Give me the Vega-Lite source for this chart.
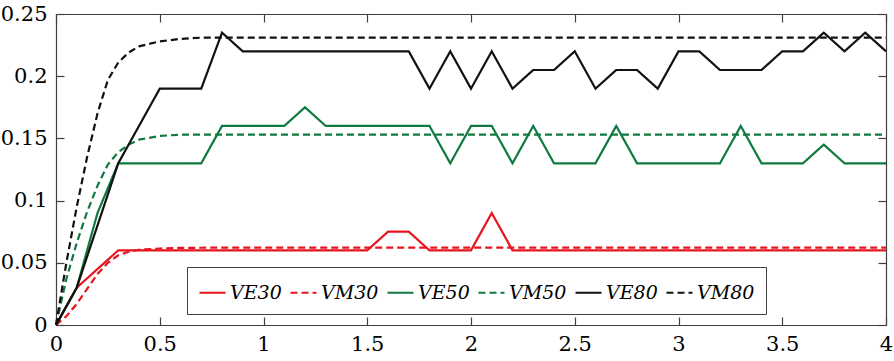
{
  "$schema": "https://vega.github.io/schema/vega-lite/v6.json",
  "width": 830,
  "height": 311,
  "autosize": {"type": "none"},
  "padding": {"left": 56, "top": 14, "right": 8, "bottom": 36},
  "background": "white",
  "config": {
    "font": "DejaVu Serif",
    "view": {"stroke": null},
    "axis": {
      "labelFont": "DejaVu Serif",
      "labelFontSize": 21,
      "labelColor": "black",
      "domainColor": "#404040",
      "domainWidth": 1.2,
      "tickColor": "#404040",
      "tickWidth": 1.2,
      "tickSize": -8,
      "grid": false,
      "title": null,
      "format": "~g"
    }
  },
  "datasets": {
    "curves": [
      {"series": "VE30", "x": 0, "y": 0},
      {"series": "VE30", "x": 0.1, "y": 0.03},
      {"series": "VE30", "x": 0.2, "y": 0.045},
      {"series": "VE30", "x": 0.3, "y": 0.06},
      {"series": "VE30", "x": 1.5, "y": 0.06},
      {"series": "VE30", "x": 1.6, "y": 0.075},
      {"series": "VE30", "x": 1.7, "y": 0.075},
      {"series": "VE30", "x": 1.8, "y": 0.06},
      {"series": "VE30", "x": 2.0, "y": 0.06},
      {"series": "VE30", "x": 2.1, "y": 0.09},
      {"series": "VE30", "x": 2.2, "y": 0.06},
      {"series": "VE30", "x": 4.0, "y": 0.06},
      {"series": "VM30", "x": 0, "y": 0},
      {"series": "VM30", "x": 0.05, "y": 0.007},
      {"series": "VM30", "x": 0.1, "y": 0.017},
      {"series": "VM30", "x": 0.15, "y": 0.029},
      {"series": "VM30", "x": 0.2, "y": 0.041},
      {"series": "VM30", "x": 0.25, "y": 0.05},
      {"series": "VM30", "x": 0.3, "y": 0.056},
      {"series": "VM30", "x": 0.35, "y": 0.059},
      {"series": "VM30", "x": 0.4, "y": 0.0605},
      {"series": "VM30", "x": 0.5, "y": 0.0615},
      {"series": "VM30", "x": 0.6, "y": 0.062},
      {"series": "VM30", "x": 0.8, "y": 0.0622},
      {"series": "VM30", "x": 4.0, "y": 0.0622},
      {"series": "VE50", "x": 0, "y": 0},
      {"series": "VE50", "x": 0.1, "y": 0.03},
      {"series": "VE50", "x": 0.2, "y": 0.09},
      {"series": "VE50", "x": 0.3, "y": 0.13},
      {"series": "VE50", "x": 0.7, "y": 0.13},
      {"series": "VE50", "x": 0.8, "y": 0.16},
      {"series": "VE50", "x": 1.1, "y": 0.16},
      {"series": "VE50", "x": 1.2, "y": 0.175},
      {"series": "VE50", "x": 1.3, "y": 0.16},
      {"series": "VE50", "x": 1.8, "y": 0.16},
      {"series": "VE50", "x": 1.9, "y": 0.13},
      {"series": "VE50", "x": 2.0, "y": 0.16},
      {"series": "VE50", "x": 2.1, "y": 0.16},
      {"series": "VE50", "x": 2.2, "y": 0.13},
      {"series": "VE50", "x": 2.3, "y": 0.16},
      {"series": "VE50", "x": 2.4, "y": 0.13},
      {"series": "VE50", "x": 2.6, "y": 0.13},
      {"series": "VE50", "x": 2.7, "y": 0.16},
      {"series": "VE50", "x": 2.8, "y": 0.13},
      {"series": "VE50", "x": 3.2, "y": 0.13},
      {"series": "VE50", "x": 3.3, "y": 0.16},
      {"series": "VE50", "x": 3.4, "y": 0.13},
      {"series": "VE50", "x": 3.6, "y": 0.13},
      {"series": "VE50", "x": 3.7, "y": 0.145},
      {"series": "VE50", "x": 3.8, "y": 0.13},
      {"series": "VE50", "x": 4.0, "y": 0.13},
      {"series": "VM50", "x": 0, "y": 0},
      {"series": "VM50", "x": 0.05, "y": 0.037},
      {"series": "VM50", "x": 0.1, "y": 0.066},
      {"series": "VM50", "x": 0.15, "y": 0.091},
      {"series": "VM50", "x": 0.2, "y": 0.112},
      {"series": "VM50", "x": 0.25, "y": 0.129},
      {"series": "VM50", "x": 0.3, "y": 0.139},
      {"series": "VM50", "x": 0.35, "y": 0.145},
      {"series": "VM50", "x": 0.4, "y": 0.149},
      {"series": "VM50", "x": 0.5, "y": 0.152},
      {"series": "VM50", "x": 0.6, "y": 0.153},
      {"series": "VM50", "x": 4.0, "y": 0.153},
      {"series": "VE80", "x": 0, "y": 0},
      {"series": "VE80", "x": 0.1, "y": 0.03},
      {"series": "VE80", "x": 0.3, "y": 0.13},
      {"series": "VE80", "x": 0.5, "y": 0.19},
      {"series": "VE80", "x": 0.7, "y": 0.19},
      {"series": "VE80", "x": 0.8, "y": 0.235},
      {"series": "VE80", "x": 0.9, "y": 0.22},
      {"series": "VE80", "x": 1.7, "y": 0.22},
      {"series": "VE80", "x": 1.8, "y": 0.19},
      {"series": "VE80", "x": 1.9, "y": 0.22},
      {"series": "VE80", "x": 2.0, "y": 0.19},
      {"series": "VE80", "x": 2.1, "y": 0.22},
      {"series": "VE80", "x": 2.2, "y": 0.19},
      {"series": "VE80", "x": 2.3, "y": 0.205},
      {"series": "VE80", "x": 2.4, "y": 0.205},
      {"series": "VE80", "x": 2.5, "y": 0.22},
      {"series": "VE80", "x": 2.6, "y": 0.19},
      {"series": "VE80", "x": 2.7, "y": 0.205},
      {"series": "VE80", "x": 2.8, "y": 0.205},
      {"series": "VE80", "x": 2.9, "y": 0.19},
      {"series": "VE80", "x": 3.0, "y": 0.22},
      {"series": "VE80", "x": 3.1, "y": 0.22},
      {"series": "VE80", "x": 3.2, "y": 0.205},
      {"series": "VE80", "x": 3.4, "y": 0.205},
      {"series": "VE80", "x": 3.5, "y": 0.22},
      {"series": "VE80", "x": 3.6, "y": 0.22},
      {"series": "VE80", "x": 3.7, "y": 0.235},
      {"series": "VE80", "x": 3.8, "y": 0.22},
      {"series": "VE80", "x": 3.9, "y": 0.235},
      {"series": "VE80", "x": 4.0, "y": 0.22},
      {"series": "VM80", "x": 0, "y": 0},
      {"series": "VM80", "x": 0.05, "y": 0.05},
      {"series": "VM80", "x": 0.1, "y": 0.095},
      {"series": "VM80", "x": 0.15, "y": 0.135},
      {"series": "VM80", "x": 0.2, "y": 0.17},
      {"series": "VM80", "x": 0.25, "y": 0.197},
      {"series": "VM80", "x": 0.3, "y": 0.211},
      {"series": "VM80", "x": 0.35, "y": 0.219},
      {"series": "VM80", "x": 0.4, "y": 0.224},
      {"series": "VM80", "x": 0.5, "y": 0.228},
      {"series": "VM80", "x": 0.6, "y": 0.23},
      {"series": "VM80", "x": 0.7, "y": 0.231},
      {"series": "VM80", "x": 4.0, "y": 0.231}
    ]
  },
  "data": {"name": "curves"},
  "layer": [
    {
      "mark": {"type": "point", "opacity": 0},
      "encoding": {
        "x": {"field": "x", "type": "quantitative", "scale": {"domain": [0, 4], "nice": false},
              "axis": {"orient": "top", "labels": false, "values": [0, 0.5, 1, 1.5, 2, 2.5, 3, 3.5, 4]}},
        "y": {"field": "y", "type": "quantitative", "scale": {"domain": [0, 0.25], "nice": false},
              "axis": {"orient": "right", "labels": false, "values": [0, 0.05, 0.1, 0.15, 0.2, 0.25]}}
      }
    },
    {
      "mark": {"type": "line", "strokeWidth": 2.2},
      "encoding": {
        "x": {"field": "x", "type": "quantitative", "scale": {"domain": [0, 4], "nice": false},
              "axis": {"orient": "bottom", "values": [0, 0.5, 1, 1.5, 2, 2.5, 3, 3.5, 4], "labelPadding": 16, "labelFlush": false}},
        "y": {"field": "y", "type": "quantitative", "scale": {"domain": [0, 0.25], "nice": false},
              "axis": {"orient": "left", "values": [0, 0.05, 0.1, 0.15, 0.2, 0.25], "labelPadding": 17, "labelFlush": false}},
        "color": {
          "field": "series", "type": "nominal",
          "scale": {"domain": ["VE30", "VM30", "VE50", "VM50", "VE80", "VM80"],
                    "range": ["#e8141e", "#e8141e", "#0f7a3e", "#0f7a3e", "#111111", "#111111"]},
          "legend": {
            "title": null, "orient": "none", "legendX": 131, "legendY": 253,
            "direction": "horizontal", "columns": 6,
            "symbolType": "stroke", "symbolSize": 676, "symbolStrokeWidth": 2.2,
            "labelFont": "DejaVu Serif", "labelFontStyle": "italic", "labelFontSize": 19,
            "labelColor": "black", "labelOffset": 3, "columnPadding": 4,
            "strokeColor": "#404040", "fillColor": "white", "padding": 11
          }
        },
        "strokeDash": {
          "field": "series", "type": "nominal",
          "scale": {"domain": ["VE30", "VM30", "VE50", "VM50", "VE80", "VM80"],
                    "range": [[1, 0], [7, 4], [1, 0], [7, 4], [1, 0], [7, 4]]},
          "legend": {
            "title": null, "orient": "none", "legendX": 131, "legendY": 253,
            "direction": "horizontal", "columns": 6,
            "symbolType": "stroke", "symbolSize": 676, "symbolStrokeWidth": 2.2,
            "labelFont": "DejaVu Serif", "labelFontStyle": "italic", "labelFontSize": 19,
            "labelColor": "black", "labelOffset": 3, "columnPadding": 4,
            "strokeColor": "#404040", "fillColor": "white", "padding": 11
          }
        }
      }
    }
  ],
  "resolve": {"axis": {"x": "independent", "y": "independent"}}
}
